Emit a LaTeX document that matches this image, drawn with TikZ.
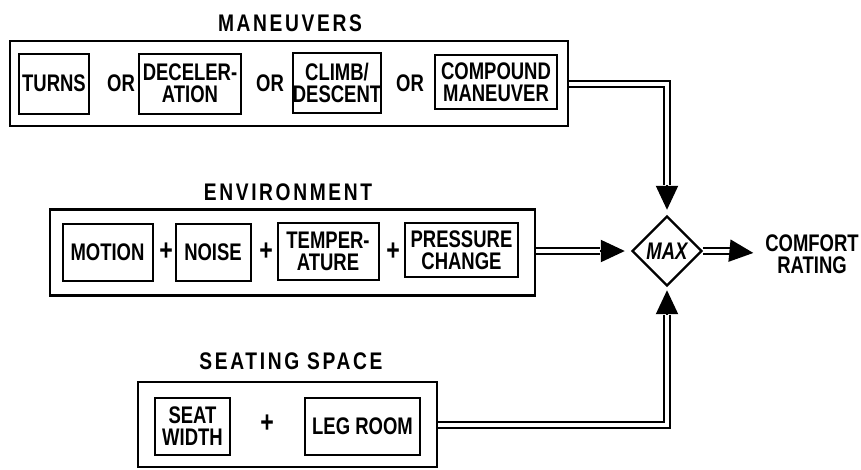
\documentclass[tikz,border=0pt]{standalone}
\usepackage{fontspec}
\setmainfont{Liberation Sans}[FakeStretch=0.77]
\newfontfamily\titelfont{Liberation Sans}[FakeStretch=0.8,LetterSpace=11]
\usetikzlibrary{calc,arrows.meta,shapes.geometric}

\begin{document}
\begin{tikzpicture}[x=1pt, y=-1pt, line width=2pt,
    every node/.style={font=\fontsize{24}{22}\selectfont\bfseries},
    outerbox/.style={draw, line width=2.4pt},
    innerbox/.style={draw, line width=2pt, align=center, inner sep=0pt},
    titel/.style={font=\fontsize{24}{24}\selectfont\titelfont\bfseries},
    plus/.style={font=\fontsize{30}{30}\selectfont\bfseries, inner sep=0pt},
    dbl/.style={double, double distance=4pt, line width=2pt},
    spitze/.style={line width=2pt, -{Triangle[length=24pt,width=22pt]}}]
    \useasboundingbox (0,0) rectangle (861,469);

    % maneuvers
    \node[titel] (tman) at (290,23) {MANEUVERS};
    \node[outerbox, minimum width=558pt, minimum height=85pt] (man) at (289,83.5) {};
    \node[innerbox, minimum width=70pt, minimum height=60pt] (turns) at (54,83.5) {TURNS};
    \node (or1) at (121,83.5) {OR};
    \node[innerbox, minimum width=102pt, minimum height=60pt] (decel) at (190,83.5) {DECELER-\\ATION};
    \node (or2) at (270,83.5) {OR};
    \node[innerbox, minimum width=86pt, minimum height=60pt] (climb) at (337,82.5) {CLIMB/\\DESCENT};
    \node (or3) at (410,83.5) {OR};
    \node[innerbox, minimum width=122pt, minimum height=54pt] (comp) at (496,82) {COMPOUND\\MANEUVER};

    % environment
    \node[titel] (tenv) at (288,192) {ENVIRONMENT};
    \node[outerbox, minimum width=485pt, minimum height=86pt] (env) at (292.5,252.5) {};
    \node[innerbox, minimum width=90pt, minimum height=57pt] (motion) at (107.5,252) {MOTION};
    \node[plus] (p1) at (166,252) {+};
    \node[innerbox, minimum width=75pt, minimum height=57pt] (noise) at (213,252) {NOISE};
    \node[plus] (p2) at (266,252) {+};
    \node[innerbox, minimum width=101pt, minimum height=57pt] (temp) at (328,251) {TEMPER-\\ATURE};
    \node[plus] (p3) at (393,252) {+};
    \node[innerbox, minimum width=113pt, minimum height=54pt] (press) at (461.5,250) {PRESSURE\\CHANGE};

    % seating space
    \node[titel] (tseat) at (291,361) {SEATING SPACE};
    \node[outerbox, minimum width=299pt, minimum height=85pt] (seat) at (287.5,424.5) {};
    \node[innerbox, minimum width=75pt, minimum height=57pt] (width) at (192.5,426.5) {SEAT\\WIDTH};
    \node[plus] (p4) at (267,424) {+};
    \node[innerbox, minimum width=115pt, minimum height=57pt] (leg) at (362.5,426.5) {LEG ROOM};

    % max and result
    \node[draw, diamond, aspect=1, line width=2.4pt, inner sep=0pt, minimum width=70pt,
          minimum height=70pt, font=\fontsize{24}{24}\selectfont\bfseries\itshape] (max) at (667,251) {MAX};
    \node[align=center, inner sep=0pt] (rating) at (812,254) {COMFORT\\RATING};

    \coordinate (topin) at ($(max.north)+(0,30pt)$);
    \coordinate (leftin) at ($(max.west)+(-31pt,0)$);
    \coordinate (botin) at ($(max.south)+(0,-28pt)$);
    \coordinate (outend) at ($(max.east)+(30pt,0)$);

    \draw[dbl] (man.east) -| (topin);
    \draw[spitze, shorten >=5pt] (topin) -- (max.north);
    \draw[dbl] (env.east |- leftin) -- (leftin);
    \draw[spitze, shorten >=6pt] (leftin) -- (max.west);
    \draw[dbl] (seat.east) -| (botin);
    \draw[spitze, shorten >=3pt] (botin) -- (max.south);
    \draw[dbl] (max.east) -- (outend);
    \draw[spitze, shorten >=11pt] (outend) -- (rating.west);
\end{tikzpicture}
\end{document}
